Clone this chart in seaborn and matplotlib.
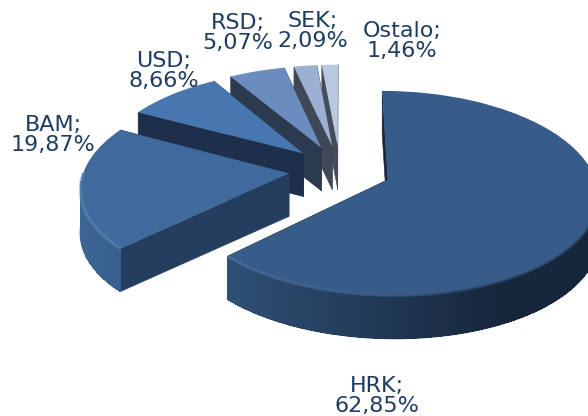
import numpy as np
import matplotlib
matplotlib.use('Agg')
import matplotlib.pyplot as plt
import matplotlib.transforms as mtransforms
from matplotlib.collections import PolyCollection, LineCollection
import seaborn as sns

# udjeli po valutama
currencies = ['HRK', 'BAM', 'USD', 'RSD', 'SEK', 'Ostalo']
shares = [62.85, 19.87, 8.66, 5.07, 2.09, 1.46]
top_colors = ['#375c89', '#3f6a9b', '#4777ae', '#6a8cbf', '#9bb0d3', '#b9c7e0']
face_colors = ['#16263b', '#253d5f', '#1e2f4b', '#2c3a50', '#3e4857', '#454d5a']
label_pos = [(377, 396), (53, 135), (164, 71), (238, 33), (313, 31), (402, 41)]

X0, Y0 = 340, 170
RX, RY = 205, 98
PERSP = 0.13
DEPTH = 43


def project(xy, drop=0.0):
    xy = np.atleast_2d(xy)
    s = 1 / (1 + PERSP * xy[:, 1])
    return np.column_stack([X0 + RX * xy[:, 0] * s, Y0 - RY * xy[:, 1] * s + drop])


class Tilt(mtransforms.Transform):
    input_dims = 2
    output_dims = 2
    is_separable = False

    def transform_non_affine(self, values):
        return project(values)


sns.set_theme(style='white')
rim_cmap = sns.blend_palette(['#3c6695', '#16263b'], 64, as_cmap=True)
glow_cmap = sns.blend_palette(['#6c94c6', '#2f4c72'], 64, as_cmap=True)

fig, ax = plt.subplots(figsize=(5.88, 4.16), dpi=100)
fig.subplots_adjust(0, 0, 1, 1)
wedges, _ = ax.pie(shares, explode=[0.25] * len(shares), startangle=90,
                   counterclock=False, colors=top_colors, radius=1)
ax.set_box_aspect(None)
ax.set_aspect('auto')
ax.set_xlim(0, 588)
ax.set_ylim(416, 0)
tilt = Tilt() + ax.transData

# od straznjih prema prednjima
for i in reversed(range(len(wedges))):
    w = wedges[i]
    cx, cy = w.center
    z = 2 * (len(wedges) - i)
    w.set_transform(tilt)
    w.set_zorder(z + 0.5)
    w.set_linewidth(0)

    th = np.radians(np.linspace(w.theta1, w.theta2, 400))
    arc = np.column_stack([cx + w.r * np.cos(th), cy + w.r * np.sin(th)])

    # rezne plohe
    apex = np.array([[cx, cy]])
    faces = []
    for end in (arc[0], arc[-1]):
        pts = np.vstack([apex, [end]])
        faces.append(np.vstack([project(pts), project(pts[::-1], DEPTH)]))
    ax.add_collection(PolyCollection(faces, facecolors=face_colors[i],
                                     edgecolors=face_colors[i], linewidths=0.4, zorder=z))

    # vanjski rub samo s prednje strane, tamniji prema desno
    front = np.sin(th) <= 0
    if front.sum() < 2:
        continue
    top = project(arc[front])
    low = project(arc[front], DEPTH)
    quads = [[top[j], top[j + 1], low[j + 1], low[j]] for j in range(len(top) - 1)]
    t = np.clip((top[:-1, 0] - 79) / 420, 0, 1)
    ax.add_collection(PolyCollection(quads, facecolors=rim_cmap(t), linewidths=0,
                                     antialiaseds=False, zorder=z + 0.1))
    low_segs = [[low[j], low[j + 1]] for j in range(len(low) - 1)]
    ax.add_collection(LineCollection(low_segs, colors=rim_cmap(t), linewidths=1.0,
                                     zorder=z + 0.2))

    # svijetli brid
    segs = [[top[j], top[j + 1]] for j in range(len(top) - 1)]
    ax.add_collection(LineCollection(segs, colors=glow_cmap(t), linewidths=2.0,
                                     alpha=0.6, zorder=z + 0.6))

for name, val, (x, y) in zip(currencies, shares, label_pos):
    txt = f'{name};\n{val:.2f}%'.replace('.', ',')
    ax.text(x, y, txt, ha='center', va='center', fontsize=16.0, color='#1f3d63',
            family='DejaVu Sans', linespacing=1.03, zorder=30)

fig.savefig('out.png', dpi=100, facecolor='white')
